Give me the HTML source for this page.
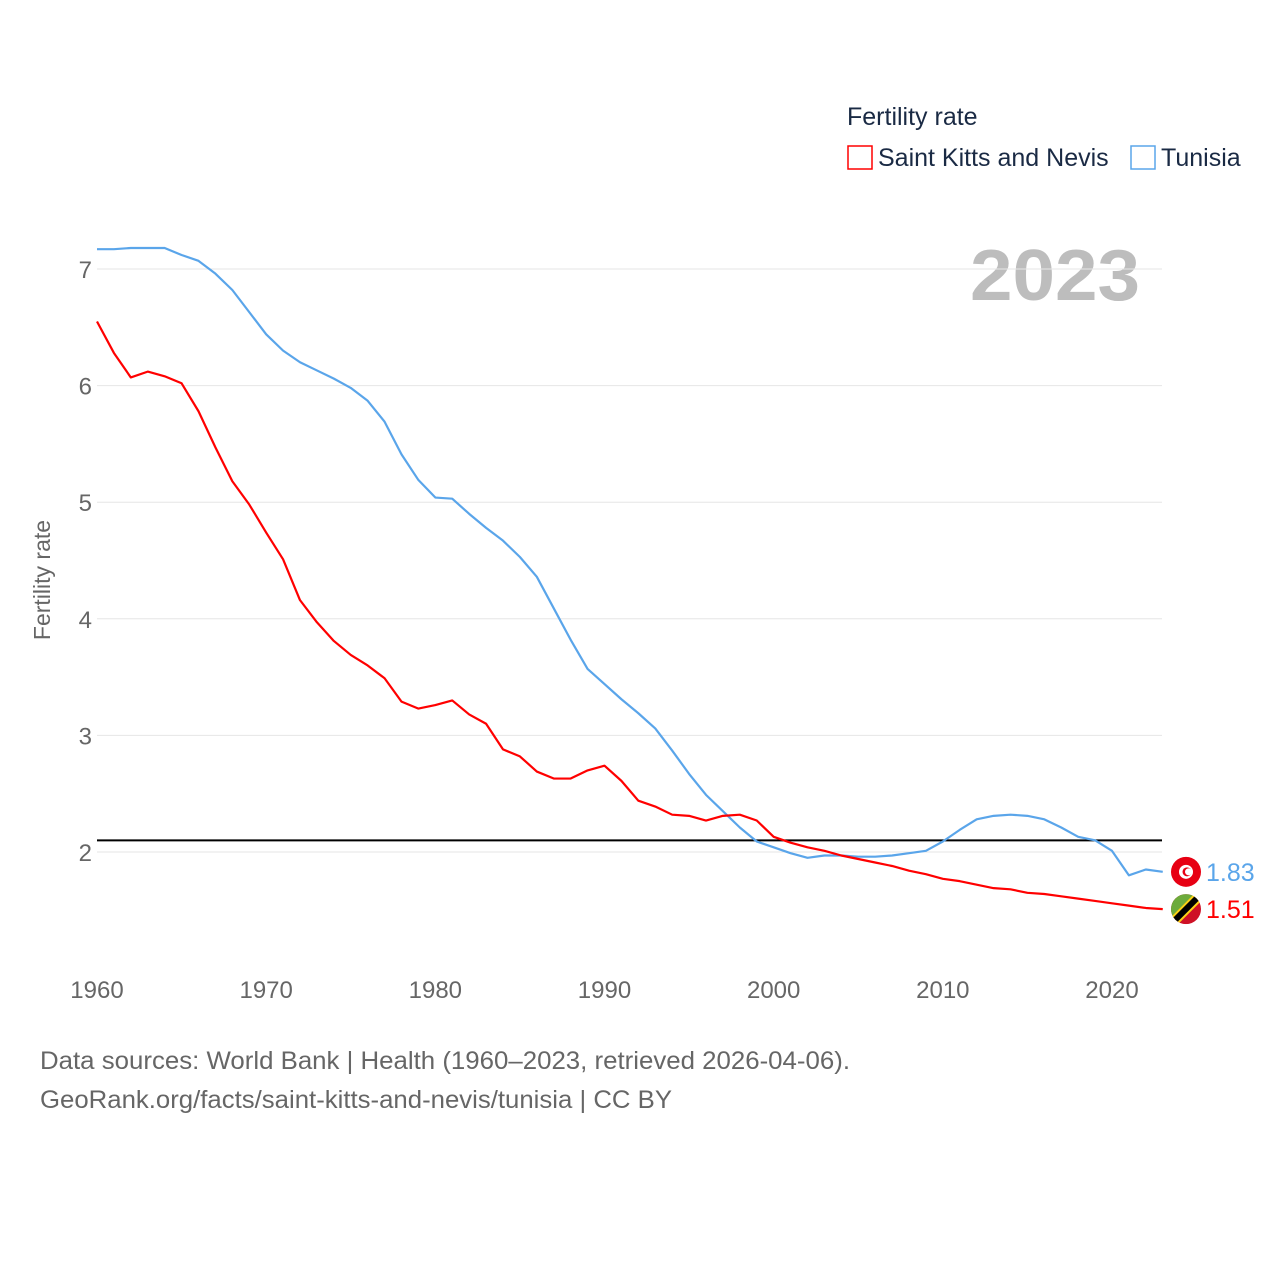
<!DOCTYPE html>
<html><head><meta charset="utf-8"><style>
body{margin:0;background:#fff;width:1280px;height:1280px;overflow:hidden;font-family:"Liberation Sans",sans-serif}
svg text{font-family:"Liberation Sans",sans-serif}
</style></head><body>
<svg id="chart" width="1280" height="1280" xmlns="http://www.w3.org/2000/svg">
<text x="847" y="125" font-size="25" fill="#1a2a44">Fertility rate</text>
<g><rect x="848" y="146" width="24" height="23" fill="none" stroke="#f00" stroke-width="1.5"/><text x="878" y="166" font-size="25" fill="#1a2a44">Saint Kitts and Nevis</text></g>
<g><rect x="1131" y="146" width="24" height="23" fill="none" stroke="#5aa5ea" stroke-width="1.5"/><text x="1161" y="166" font-size="25" fill="#1a2a44">Tunisia</text></g>
<text x="970" y="300" font-size="72" font-weight="bold" fill="#bdbdbd" textLength="170" lengthAdjust="spacingAndGlyphs">2023</text>
<text transform="translate(50,580) rotate(-90)" font-size="23" fill="#666" text-anchor="middle">Fertility rate</text>
<g id="grid"></g><g id="series"></g>
<text x="40" y="1069" font-size="25" fill="#666" textLength="810" lengthAdjust="spacingAndGlyphs">Data sources: World Bank | Health (1960–2023, retrieved 2026-04-06).</text>
<text x="40" y="1108" font-size="25" fill="#666" textLength="632" lengthAdjust="spacingAndGlyphs">GeoRank.org/facts/saint-kitts-and-nevis/tunisia | CC BY</text>
</svg>
<script>
const years=[];for(let y=1960;y<=2023;y++)years.push(y);
const kna=[6.55,6.28,6.07,6.12,6.08,6.02,5.78,5.47,5.18,4.98,4.74,4.51,4.16,3.97,3.81,3.69,3.60,3.49,3.29,3.23,3.26,3.30,3.18,3.10,2.88,2.82,2.69,2.63,2.63,2.70,2.74,2.61,2.44,2.39,2.32,2.31,2.27,2.31,2.32,2.27,2.13,2.08,2.04,2.01,1.97,1.94,1.91,1.88,1.84,1.81,1.77,1.75,1.72,1.69,1.68,1.65,1.64,1.62,1.60,1.58,1.56,1.54,1.52,1.51];
const tun=[7.17,7.17,7.18,7.18,7.18,7.12,7.07,6.96,6.82,6.63,6.44,6.30,6.20,6.13,6.06,5.98,5.87,5.69,5.41,5.19,5.04,5.03,4.90,4.78,4.67,4.53,4.36,4.09,3.82,3.57,3.44,3.31,3.19,3.06,2.87,2.67,2.49,2.35,2.21,2.09,2.04,1.99,1.95,1.97,1.97,1.96,1.96,1.97,1.99,2.01,2.09,2.19,2.28,2.31,2.32,2.31,2.28,2.21,2.13,2.10,2.01,1.80,1.85,1.83];
const yTicks=[2,3,4,5,6,7];
const xTicks=[1960,1970,1980,1990,2000,2010,2020];
const refValue=2.1;
const NS="http://www.w3.org/2000/svg";
const X=y=>97+(y-1960)*(1112-97)/60;
const Y=v=>852-(v-2)*(852-269)/5;
function mk(tag,attrs,parent){const e=document.createElementNS(NS,tag);for(const k in attrs)e.setAttribute(k,attrs[k]);parent.appendChild(e);return e;}
const grid=document.getElementById('grid'),ser=document.getElementById('series');
yTicks.forEach(v=>{const l=mk('line',{x1:97,x2:1162,y1:Y(v),y2:Y(v),stroke:'#e6e6e6','stroke-width':1},grid);


const t=mk('text',{x:92,y:Y(v)+9,'font-size':24,fill:'#666','text-anchor':'end'},grid);t.textContent=v;

});
xTicks.forEach(y=>{const t=mk('text',{x:X(y),y:998,'font-size':24,fill:'#666','text-anchor':'middle'},grid);t.textContent=y;

});
const ref=mk('line',{x1:97,x2:1162,y1:Y(refValue),y2:Y(refValue),stroke:'#000','stroke-width':2},ser);


function line(d,c,name){const p=mk('polyline',{points:d.map((v,i)=>X(years[i])+','+Y(v)).join(' '),fill:'none',stroke:c,'stroke-width':2.2,'stroke-linejoin':'round'},ser);

}
line(tun,'#5aa5ea','tunisia-line');
line(kna,'#f00','saint-kitts-line');
const last=years.length-1;
const ty=Y(tun[last]),ky=Y(kna[last]);
const fy1=ty,fy2=ky;
let g=mk('g',{},ser);


mk('circle',{cx:1186,cy:fy1,r:15,fill:'#e70013'},g);
mk('circle',{cx:1186,cy:fy1,r:7,fill:'#fff'},g);
mk('circle',{cx:1187,cy:fy1,r:4.5,fill:'#e70013'},g);
mk('circle',{cx:1188.5,cy:fy1,r:3.5,fill:'#fff'},g);
let t=mk('text',{x:1206,y:fy1+9,'font-size':25,fill:'#5aa5ea'},ser);t.textContent=tun[last].toFixed(2);


g=mk('g',{},ser);


mk('clipPath',{id:'fc'},g);mk('circle',{cx:1186,cy:fy2,r:15},document.getElementById('fc'));
const gg=mk('g',{'clip-path':'url(#fc)'},g);
mk('rect',{x:1171,y:fy2-15,width:30,height:30,fill:'#ce1126'},gg);
mk('polygon',{points:`1171,${fy2-15} 1201,${fy2-15} 1171,${fy2+15}`,fill:'#6cab3c'},gg);
mk('line',{x1:1168,y1:fy2+18,x2:1204,y2:fy2-18,stroke:'#fcd116','stroke-width':10},gg);
mk('line',{x1:1168,y1:fy2+18,x2:1204,y2:fy2-18,stroke:'#000','stroke-width':6},gg);
t=mk('text',{x:1206,y:fy2+9,'font-size':25,fill:'#f00'},ser);t.textContent=kna[last].toFixed(2);


</script>
</body></html>
